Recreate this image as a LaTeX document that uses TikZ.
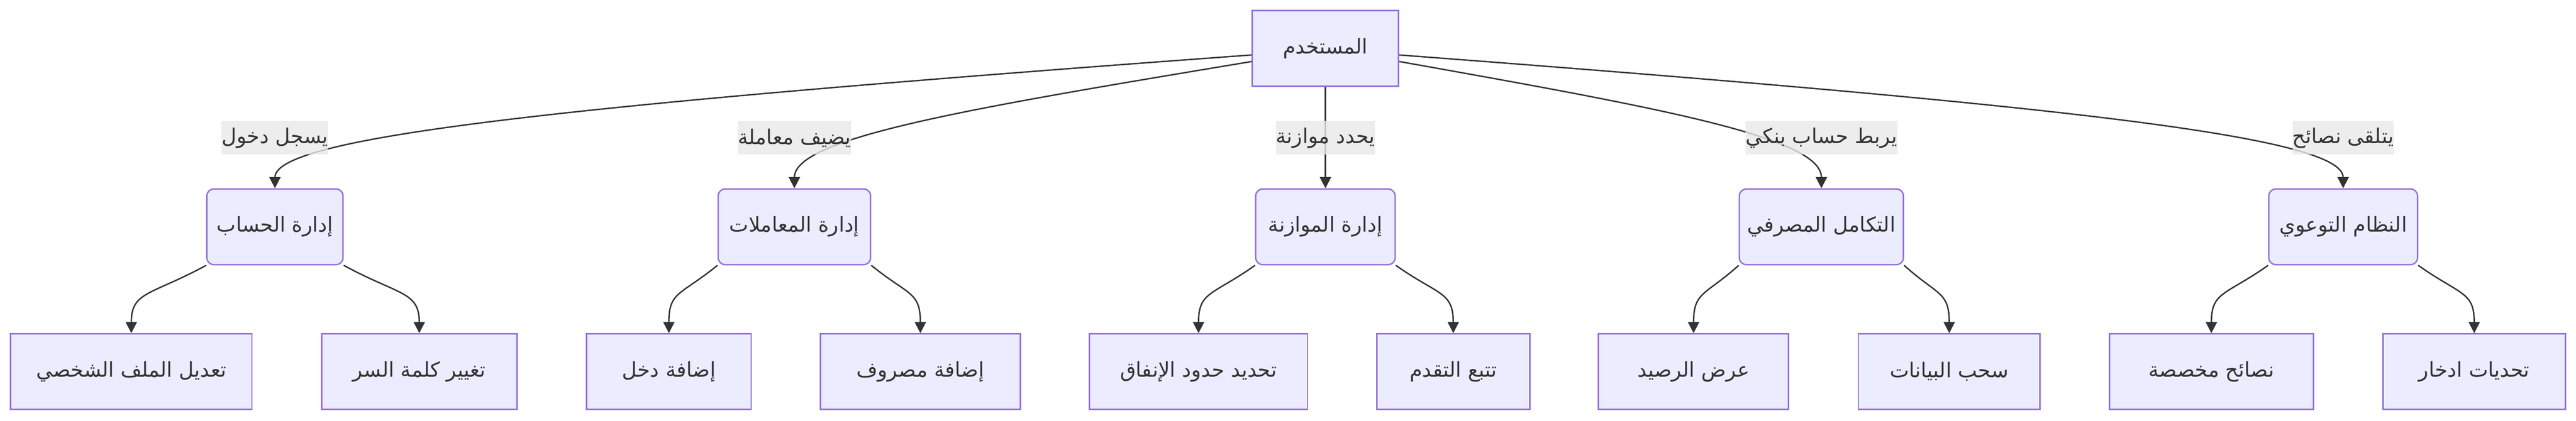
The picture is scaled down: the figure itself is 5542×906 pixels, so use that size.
\documentclass[tikz,border=0pt]{standalone}
\usepackage{fontspec}
\newfontfamily\arabicfont[Script=Arabic]{DejaVu Sans}
\TeXXeTstate=1
\usetikzlibrary{arrows.meta}
\definecolor{boxfill}{HTML}{ECECFF}
\definecolor{boxline}{HTML}{9370DB}
\definecolor{edgecol}{HTML}{333333}
\definecolor{lblfill}{HTML}{E8E8E8}
\newcommand{\artxt}[1]{\beginR #1\endR}

\begin{document}
\begin{tikzpicture}[x=0.25pt, y=-0.25pt,
    box/.style={draw=boxline, fill=boxfill, line width=0.75pt, minimum height=40.75pt, inner sep=0pt,
      text=edgecol, font=\arabicfont\fontsize{11}{13}\selectfont},
    midbox/.style={box, rounded corners=3.75pt},
    lbl/.style={fill=lblfill, fill opacity=0.8, text opacity=1, inner xsep=0pt, inner ysep=0pt,
      minimum height=18pt, text=edgecol, font=\arabicfont\fontsize{11}{13}\selectfont},
    arr/.style={draw=edgecol, line width=0.75pt, -{Triangle[length=6pt,width=6pt]}}]
    \useasboundingbox (0,0) rectangle (5542,906);
    \node[box, minimum width=78.75pt] (user) at (2851.5,104.5) {\artxt{المستخدم}};
    \node[midbox, minimum width=73.25pt] (acct) at (591.5,488.5) {\artxt{إدارة الحساب}};
    \node[midbox, minimum width=82pt] (trans) at (1709,488.5) {\artxt{إدارة المعاملات}};
    \node[midbox, minimum width=75pt] (budg) at (2851.5,488.5) {\artxt{إدارة الموازنة}};
    \node[midbox, minimum width=88.25pt] (bank) at (3918.5,488.5) {\artxt{التكامل المصرفي}};
    \node[midbox, minimum width=80pt] (aware) at (5041,488.5) {\artxt{النظام التوعوي}};
    \node[box, minimum width=129.75pt] (prof) at (282.5,800.5) {\artxt{تعديل الملف الشخصي}};
    \node[box, minimum width=105pt] (pwd) at (902,800.5) {\artxt{تغيير كلمة السر}};
    \node[box, minimum width=88.5pt] (inc) at (1439,800.5) {\artxt{إضافة دخل}};
    \node[box, minimum width=107.5pt] (expn) at (1980,800.5) {\artxt{إضافة مصروف}};
    \node[box, minimum width=117.25pt] (lim) at (2578.5,800.5) {\artxt{تحديد حدود الإنفاق}};
    \node[box, minimum width=82.25pt] (track) at (3126.5,800.5) {\artxt{تتبع التقدم}};
    \node[box, minimum width=102.25pt] (bal) at (3643.5,800.5) {\artxt{عرض الرصيد}};
    \node[box, minimum width=97.75pt] (sync) at (4193.5,800.5) {\artxt{سحب البيانات}};
    \node[box, minimum width=109.75pt] (tips) at (4757.5,800.5) {\artxt{نصائح مخصصة}};
    \node[box, minimum width=98pt] (chal) at (5323,800.5) {\artxt{تحديات ادخار}};
    % user -> modules
    \draw[arr] (user.185) .. controls +(-1500,110) and +(0,-110) .. (acct.north);
    \draw[arr] (user.190) .. controls +(-600,100) and +(0,-110) .. (trans.north);
    \draw[arr] (user) -- (budg);
    \draw[arr] (user.350) .. controls +(560,100) and +(0,-110) .. (bank.north);
    \draw[arr] (user.355) .. controls +(1450,110) and +(0,-110) .. (aware.north);
    % modules -> tasks
    \draw[arr] (acct.south west) .. controls +(-120,65) and +(0,-90) .. (prof.north);
    \draw[arr] (acct.south east) .. controls +(120,65) and +(0,-90) .. (pwd.north);
    \draw[arr] (trans.south west) .. controls +(-80,65) and +(0,-90) .. (inc.north);
    \draw[arr] (trans.south east) .. controls +(80,65) and +(0,-90) .. (expn.north);
    \draw[arr] (budg.south west) .. controls +(-92,65) and +(0,-90) .. (lim.north);
    \draw[arr] (budg.south east) .. controls +(92,65) and +(0,-90) .. (track.north);
    \draw[arr] (bank.south west) .. controls +(-72,65) and +(0,-90) .. (bal.north);
    \draw[arr] (bank.south east) .. controls +(72,65) and +(0,-90) .. (sync.north);
    \draw[arr] (aware.south west) .. controls +(-92,65) and +(0,-90) .. (tips.north);
    \draw[arr] (aware.south east) .. controls +(92,65) and +(0,-90) .. (chal.north);
    % edge labels
    \node[lbl] (lacct) at (591.5,297) {\artxt{يسجل دخول}};
    \node[lbl] (ltrans) at (1709,297) {\artxt{يضيف معاملة}};
    \node[lbl] (lbudg) at (2851.5,297) {\artxt{يحدد موازنة}};
    \node[lbl] (lbank) at (3918.5,297) {\artxt{يربط حساب بنكي}};
    \node[lbl] (laware) at (5041,297) {\artxt{يتلقى نصائح}};
\end{tikzpicture}
\end{document}
